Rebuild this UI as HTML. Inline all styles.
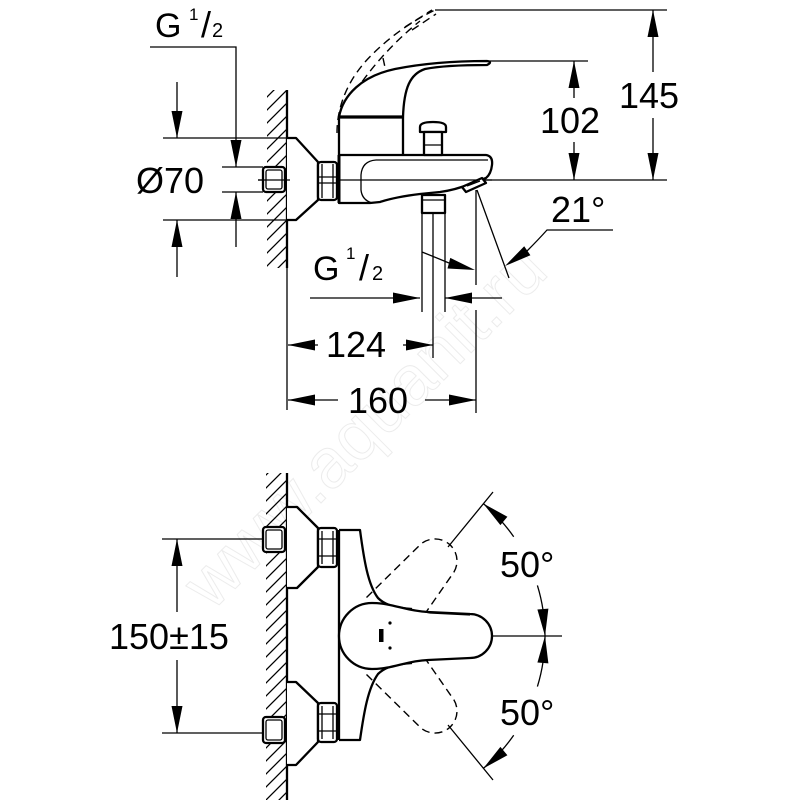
<!DOCTYPE html>
<html><head><meta charset="utf-8">
<style>
html,body{margin:0;padding:0;background:#fff}
svg{display:block}
.t{stroke:#000;stroke-width:1.3;fill:none}
.k{stroke:#000;stroke-width:2.3;fill:#fff;stroke-linejoin:round}
.kl{stroke:#000;stroke-width:2.3;fill:none;stroke-linejoin:round}
.d{stroke:#000;stroke-width:1.4;fill:none;stroke-dasharray:8 5}
text{font-family:"Liberation Sans",sans-serif;fill:#000}
text.wm{fill:none;stroke:#ececec;stroke-width:1}
</style></head>
<body>
<svg width="800" height="800" viewBox="0 0 800 800" xmlns="http://www.w3.org/2000/svg">
<defs>
<pattern id="h" width="13" height="13" patternUnits="userSpaceOnUse">
<path d="M-1,14 L14,-1 M12,14 L14,12 M-1,1 L1,-1" stroke="#000" stroke-width="1.3"/>
</pattern>
</defs>

<!-- watermark -->
<text class="wm" transform="translate(212,612) rotate(-45)" font-size="70">www.aquanit.ru</text>

<!-- walls -->
<rect x="267" y="90" width="20" height="178" fill="url(#h)"/>
<rect x="266" y="473" width="21" height="327" fill="url(#h)"/>
<path class="kl" d="M287,90 V268"/>
<path class="t" d="M287,268 V410"/>
<path class="kl" d="M287,473 V800"/>

<!-- ===== TOP VIEW dimension lines ===== -->
<path class="t" d="M150,47 H236 V167 M177,82 V138 M177,220 V277 M236,192 V247
M163,138 H287 M163,220 H287 M222,167 H263 M222,192 H263 M258,180 H667
M487,61 H588 M435,10 H667 M574,61 V98 M574,142 V180 M653,10 V72 M653,118 V180
M422,213 V312 M445,213 V312 M433,213 V358 M476,190 V285 M476,310 V413
M477,190 L509,278 M310,298 H420 M445,298 H502
M288,345 H318 M403,345 H433 M288,400 H338 M425,400 H476
M527,251 Q538,240 547,230 H613 M422,252 Q437,258 449,263"/>

<!-- top arrows -->
<g fill="#000">
<polygon points="177,138 171.5,111 182.5,111"/>
<polygon points="177,220 171.5,247 182.5,247"/>
<polygon points="236,167 230.5,140 241.5,140"/>
<polygon points="236,192 230.5,219 241.5,219"/>
<polygon points="574,61 568.5,88 579.5,88"/>
<polygon points="574,180 568.5,153 579.5,153"/>
<polygon points="653,10 647.5,37 658.5,37"/>
<polygon points="653,180 647.5,153 658.5,153"/>
<polygon points="420,298 393,292.5 393,303.5"/>
<polygon points="445,298 472,292.5 472,303.5"/>
<polygon points="288,345 315,339.5 315,350.5"/>
<polygon points="433,345 406,339.5 406,350.5"/>
<polygon points="288,400 315,394.5 315,405.5"/>
<polygon points="476,400 449,394.5 449,405.5"/>
<polygon points="505,266 524.2,246.2 530.4,255.2"/>
<polygon points="475,270 450.3,257.9 447.5,268.5"/>
</g>

<!-- top flange, nut, nub -->
<path class="k" d="M287,138 H296 L318,162 V200 L296,220 H287"/>
<rect class="k" x="318" y="162" width="19" height="38" rx="3"/>
<path class="t" d="M322,164 V198 M333,164 V198 M318,177 H337 M318,183 H337"/>
<rect class="k" x="263" y="167" width="22" height="25" rx="3"/>
<rect class="t" x="266" y="170" width="16" height="19" rx="2"/>
<path class="t" d="M258,180 H290"/>

<!-- dashed raised handle -->
<path class="d" d="M337,133 C337,110 345,85 365,62 C385,40 410,22 435,10"/>
<path class="d" d="M355,92 C368,72 390,45 420,21"/>
<path class="d" d="M363,118 C365,100 372,86 382,75"/>
<path class="d" d="M383,58 L392,100 L384,106"/>
<path class="d" d="M405,27 L432,10 M412,30 L436,14"/>

<!-- cartridge housing -->
<rect class="k" x="339" y="117" width="64" height="40"/>
<!-- handle -->
<path class="k" d="M339,117 C343,95 362,76 395,69 C425,63 460,61 487,61 Q493,62 487,65 C465,65 440,66 425,69 C410,74 404,88 403,117 Z"/>
<path d="M339,117 H403" stroke="#000" stroke-width="3.2"/>

<!-- spout body -->
<path class="k" d="M339,155 H486 Q493,156 492,165 Q491,174 486,178 L470,184 Q455,190 440,192 L420,194 Q395,197 380,202 L370,203 H339 Z"/>
<path d="M339,155 V203" stroke="#000" stroke-width="3"/>
<path class="t" d="M376,160 H488 M376,160 Q362,161 361,175 L361,190 Q362,200 372,203"/>
<path class="t" d="M339,180 H492"/>
<!-- knob -->
<path class="k" d="M420,132 V127 Q420,122 433,122 Q446,122 446,127 V132 Z"/>
<rect class="k" x="424" y="132" width="18" height="23"/>
<path class="t" d="M424,145 H442"/>
<!-- diverter -->
<rect class="k" x="422" y="195" width="23" height="18"/>
<path class="t" d="M422,200 H445"/>
<!-- aerator -->
<path class="k" d="M462,187 L482,178 L486,183 L466,192 Z"/>
<path class="t" d="M467,186 L480,181"/>

<!-- top texts -->
<text x="155" y="37" font-size="34">G</text>
<text x="189" y="20" font-size="17">1</text>
<text x="201" y="37" font-size="36">/</text>
<text x="212" y="37" font-size="20">2</text>
<text x="136" y="193" font-size="36">Ø70</text>
<text x="540" y="133" font-size="36">102</text>
<text x="619" y="108" font-size="36">145</text>
<text x="551" y="222" font-size="36">21°</text>
<text x="313" y="280" font-size="34">G</text>
<text x="346" y="259" font-size="17">1</text>
<text x="359" y="280" font-size="36">/</text>
<text x="372" y="280" font-size="20">2</text>
<text x="326" y="357" font-size="36">124</text>
<text x="348" y="413" font-size="36">160</text>

<!-- ===== FRONT VIEW ===== -->
<path class="t" d="M162,539 H263 M162,733 H263 M177,539 V612 M177,660 V733
M492,636 H562 M448,547 L493,492 M448,725 L493,780"/>
<path class="t" d="M483.2,503.5 A173,173 0 0 1 513.7,536.7 M537.4,585.4 A173,173 0 0 1 545,636 M545,636 A173,173 0 0 1 537.4,686.6 M513.7,735.3 A173,173 0 0 1 483.2,768.5"/>
<g fill="#000">
<polygon points="177,539 171.5,566 182.5,566"/>
<polygon points="177,733 171.5,706 182.5,706"/>
<polygon points="483.2,503.5 507.4,516.7 500.4,525.1"/>
<polygon points="545,636 537.4,609.5 548.4,608.6"/>
<polygon points="545,636 537.4,662.5 548.4,663.4"/>
<polygon points="483.2,768.5 507.4,755.3 500.4,746.9"/>
</g>

<!-- upper flange -->
<path class="k" d="M287,507 H297 L318,528 V567 L297,588 H287"/>
<rect class="k" x="318" y="528" width="19" height="39" rx="3"/>
<path class="t" d="M322,531 V564 M333,531 V564 M318,539 H337 M318,556 H337"/>
<rect class="k" x="263" y="527" width="22" height="25" rx="3"/>
<rect class="t" x="266" y="530" width="16" height="19" rx="2"/>
<!-- lower flange -->
<path class="k" d="M287,682 H296 L318,703 V742 L296,765 H287"/>
<rect class="k" x="318" y="703" width="19" height="39" rx="3"/>
<path class="t" d="M322,706 V739 M333,706 V739 M318,714 H337 M318,731 H337"/>
<rect class="k" x="263" y="717" width="22" height="26" rx="3"/>
<rect class="t" x="266" y="720" width="16" height="20" rx="2"/>

<!-- body plate -->
<path class="kl" d="M339,530 V740"/>
<path class="kl" d="M339,530 H360 C364,560 368,585 378,598 C386,606 398,608 412,609"/>
<path class="kl" d="M339,740 H360 C364,712 368,688 378,674 C386,666 398,664 412,663"/>

<!-- dashed lever positions -->
<g transform="rotate(-50 372 636)"><path class="d" d="M398,607 L470,614 A22,22 0 0 1 470,658 L426,662"/></g>
<g transform="rotate(50 372 636)"><path class="d" d="M398,665 L470,658 A22,22 0 0 0 470,614 L426,610"/></g>

<!-- lever -->
<path class="k" d="M372,603 C393,603 405,611 428,612 L470,614 A22,22 0 0 1 470,658 L428,660 C405,661 393,669 372,669 A33,33 0 0 1 372,603 Z"/>
<path class="t" d="M412,610 C420,611 425,612 430,613 L470,615"/>
<rect x="379" y="629" width="4.5" height="13" fill="#000"/>
<circle cx="390" cy="623" r="1.6" fill="#000"/>
<circle cx="390" cy="648" r="1.6" fill="#000"/>

<!-- front texts -->
<text x="109" y="649" font-size="36">150±15</text>
<text x="500" y="577" font-size="36">50°</text>
<text x="500" y="725" font-size="36">50°</text>
</svg>
</body></html>
